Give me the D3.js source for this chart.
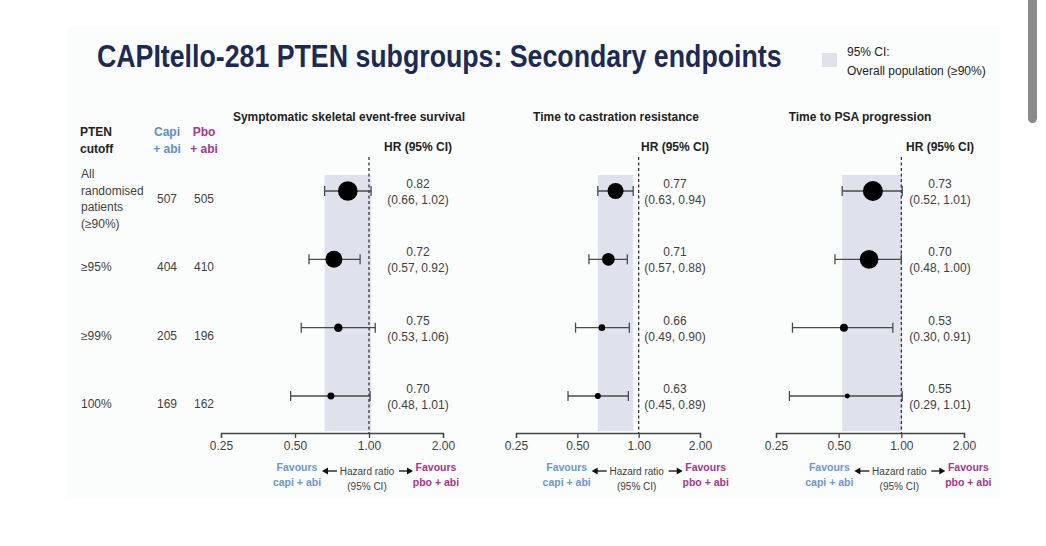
<!DOCTYPE html>
<html>
<head>
<meta charset="utf-8">
<script src="https://cdn.jsdelivr.net/npm/d3@7"></script>
<style>
  body { margin: 0; background: #ffffff; }
  svg { display: block; font-family: "Liberation Sans", Arial, sans-serif; }
</style>
</head>
<body>
<svg id="chart"></svg>
<script>
// subgroup rows
const cutoffs = ["All randomised patients (≥90%)", "≥95%", "≥99%", "100%"];
const capiN = [507, 404, 205, 169];
const pboN = [505, 410, 196, 162];

// endpoints (panels)
const endpoints = ["Symptomatic skeletal event-free survival", "Time to castration resistance", "Time to PSA progression"];
const hrSSE = [0.82, 0.72, 0.75, 0.70];
const loSSE = [0.66, 0.57, 0.53, 0.48];
const hiSSE = [1.02, 0.92, 1.06, 1.01];
const hrCRPC = [0.77, 0.71, 0.66, 0.63];
const loCRPC = [0.63, 0.57, 0.49, 0.45];
const hiCRPC = [0.94, 0.88, 0.90, 0.89];
const hrPSA = [0.73, 0.70, 0.53, 0.55];
const loPSA = [0.52, 0.48, 0.30, 0.29];
const hiPSA = [1.01, 1.00, 0.91, 1.01];
// relative marker weights
const wSSE = [96, 72, 18, 12];
const wCRPC = [64, 40, 11, 9];
const wPSA = [100, 88, 16, 6];

const tickValues = [0.25, 0.5, 1, 2];
const tickLabels = ["0.25", "0.50", "1.00", "2.00"];

const config = {
    width: 1046,
    height: 546,
    axisY: 433,
    rowTop: 191,
    rowBottom: 396,
    panels: [
        { range: [221, 443], hrX: 418, titleX: 349 },
        { range: [516, 700], hrX: 675, titleX: 616 },
        { range: [776, 964], hrX: 940, titleX: 860 }
    ]
};

const series = [
    { hr: hrSSE, lo: loSSE, hi: hiSSE, w: wSSE },
    { hr: hrCRPC, lo: loCRPC, hi: hiCRPC, w: wCRPC },
    { hr: hrPSA, lo: loPSA, hi: hiPSA, w: wPSA }
];

const blue = "#5d8fd3";
const purple = "#a5368f";
const textCol = "#3f3f3f";

const svg = d3.select("#chart")
    .attr("width", config.width)
    .attr("height", config.height);

// slide background
svg.append("rect")
    .attr("x", 66).attr("y", 27)
    .attr("width", 934).attr("height", 470)
    .attr("fill", "#fbfcfc");

// scrollbar of the screenshot
svg.append("rect")
    .attr("x", 1028).attr("y", -6)
    .attr("width", 9).attr("height", 129)
    .attr("rx", 4.5)
    .attr("fill", "#8a8a8a");

// title (the slide is a bit squeezed horizontally, so scale the text to its width)
const title = svg.append("text")
    .attr("x", 0).attr("y", 0)
    .attr("font-size", 32)
    .attr("font-weight", "bold")
    .attr("fill", "#1c2a55")
    .text("CAPItello-281 PTEN subgroups: Secondary endpoints");
const titleW = title.node().getComputedTextLength();
title.attr("transform", `translate(97,67) scale(${685 / titleW},1)`);

// legend
svg.append("rect")
    .attr("x", 822).attr("y", 53)
    .attr("width", 15).attr("height", 14)
    .attr("fill", "#dfe1ec");
svg.append("text")
    .attr("x", 847).attr("y", 56)
    .attr("font-size", 12).attr("fill", "#222")
    .text("95% CI:");
svg.append("text")
    .attr("x", 847).attr("y", 75)
    .attr("font-size", 12).attr("fill", "#222")
    .text("Overall population (≥90%)");

const yRow = d3.scalePoint()
    .domain(cutoffs)
    .range([config.rowTop, config.rowBottom]);

// table headers
const headers = [
    { x: 80, anchor: "start", lines: ["PTEN", "cutoff"], color: "#222" },
    { x: 167, anchor: "middle", lines: ["Capi", "+ abi"], color: blue },
    { x: 204, anchor: "middle", lines: ["Pbo", "+ abi"], color: purple }
];
headers.forEach(h => {
    svg.append("g").selectAll("text")
        .data(h.lines)
        .join("text")
        .attr("x", h.x)
        .attr("y", (d, i) => 132 + i * 17)
        .attr("dominant-baseline", "central")
        .attr("text-anchor", h.anchor)
        .attr("font-size", 12)
        .attr("font-weight", "bold")
        .attr("fill", h.color)
        .text(d => d);
});

// table rows
const table = svg.append("g");
cutoffs.forEach((c, i) => {
    const cy = yRow(c) + 8;
    const lines = i === 0 ? ["All", "randomised", "patients", "(≥90%)"] : [c];
    table.append("g").selectAll("text")
        .data(lines)
        .join("text")
        .attr("x", 81)
        .attr("y", (d, j) => cy + (j - (lines.length - 1) / 2) * 16.5)
        .attr("dominant-baseline", "central")
        .attr("font-size", 12)
        .attr("fill", textCol)
        .text(d => d);
    table.append("text")
        .attr("x", 167).attr("y", cy)
        .attr("dominant-baseline", "central")
        .attr("text-anchor", "middle")
        .attr("font-size", 12).attr("fill", textCol)
        .text(capiN[i]);
    table.append("text")
        .attr("x", 204).attr("y", cy)
        .attr("dominant-baseline", "central")
        .attr("text-anchor", "middle")
        .attr("font-size", 12).attr("fill", textCol)
        .text(pboN[i]);
});

const rScale = d3.scaleSqrt().domain([0, 100]).range([0, 10]);
const fmt = d3.format(".2f");

config.panels.forEach((p, k) => {
    const s = series[k];
    const x = d3.scaleLog().base(2).domain([0.25, 2]).range(p.range);
    const g = svg.append("g");

    // panel title
    g.append("text")
        .attr("x", p.titleX).attr("y", 117)
        .attr("dominant-baseline", "central")
        .attr("text-anchor", "middle")
        .attr("font-size", 12).attr("font-weight", "bold")
        .attr("fill", "#222")
        .text(endpoints[k]);

    g.append("text")
        .attr("x", p.hrX).attr("y", 147)
        .attr("dominant-baseline", "central")
        .attr("text-anchor", "middle")
        .attr("font-size", 12).attr("font-weight", "bold")
        .attr("fill", "#222")
        .text("HR (95% CI)");

    // overall population CI band
    g.append("rect")
        .attr("x", x(s.lo[0]))
        .attr("y", 175)
        .attr("width", x(s.hi[0]) - x(s.lo[0]))
        .attr("height", config.axisY - 2 - 175)
        .attr("fill", "#dfe1ec");

    // reference line at HR = 1
    g.append("line")
        .attr("x1", x(1)).attr("x2", x(1))
        .attr("y1", 157).attr("y2", config.axisY)
        .attr("stroke", "#333")
        .attr("stroke-width", 1.3)
        .attr("stroke-dasharray", "3,2.5");

    // axis
    const axis = d3.axisBottom(x)
        .tickValues(tickValues)
        .tickFormat((d, i) => tickLabels[i])
        .tickSize(5)
        .tickPadding(3);
    const ax = g.append("g")
        .attr("transform", `translate(0,${config.axisY})`)
        .call(axis);
    ax.select(".domain").attr("stroke", "#444").attr("stroke-width", 1.3);
    ax.selectAll(".tick line").attr("stroke", "#444").attr("stroke-width", 1.3);
    ax.selectAll(".tick text")
        .attr("font-size", 12)
        .attr("fill", textCol)
        .attr("font-family", "Liberation Sans, Arial, sans-serif");

    // rows
    const rows = g.selectAll("g.row")
        .data(cutoffs.map((c, i) => ({ c, hr: s.hr[i], lo: s.lo[i], hi: s.hi[i], w: s.w[i] })))
        .join("g")
        .attr("class", "row")
        .attr("transform", d => `translate(0,${yRow(d.c)})`);

    rows.append("line")
        .attr("x1", d => x(d.lo)).attr("x2", d => x(d.hi))
        .attr("stroke", "#4a4a4a").attr("stroke-width", 1.3);
    rows.append("line")
        .attr("x1", d => x(d.lo)).attr("x2", d => x(d.lo))
        .attr("y1", -5).attr("y2", 5)
        .attr("stroke", "#4a4a4a").attr("stroke-width", 1.3);
    rows.append("line")
        .attr("x1", d => x(d.hi)).attr("x2", d => x(d.hi))
        .attr("y1", -5).attr("y2", 5)
        .attr("stroke", "#4a4a4a").attr("stroke-width", 1.3);
    rows.append("circle")
        .attr("cx", d => x(d.hr))
        .attr("r", d => rScale(d.w))
        .attr("fill", "#000");

    rows.append("text")
        .attr("x", p.hrX).attr("y", -7)
        .attr("dominant-baseline", "central")
        .attr("text-anchor", "middle")
        .attr("font-size", 12).attr("fill", textCol)
        .text(d => fmt(d.hr));
    rows.append("text")
        .attr("x", p.hrX).attr("y", 9)
        .attr("dominant-baseline", "central")
        .attr("text-anchor", "middle")
        .attr("font-size", 12).attr("fill", textCol)
        .text(d => `(${fmt(d.lo)}, ${fmt(d.hi)})`);

    // bottom direction labels
    const c = x(1) - 2;
    const lab = g.append("g");
    lab.append("text").attr("x", c - 70).attr("y", 467)
        .attr("dominant-baseline", "central").attr("text-anchor", "middle")
        .attr("font-size", 10.5).attr("font-weight", "bold").attr("fill", "#6b96d2")
        .text("Favours");
    lab.append("text").attr("x", c - 70).attr("y", 482)
        .attr("dominant-baseline", "central").attr("text-anchor", "middle")
        .attr("font-size", 10.5).attr("font-weight", "bold").attr("fill", "#6b96d2")
        .text("capi + abi");
    lab.append("text").attr("x", c + 69).attr("y", 467)
        .attr("dominant-baseline", "central").attr("text-anchor", "middle")
        .attr("font-size", 10.5).attr("font-weight", "bold").attr("fill", purple)
        .text("Favours");
    lab.append("text").attr("x", c + 69).attr("y", 482)
        .attr("dominant-baseline", "central").attr("text-anchor", "middle")
        .attr("font-size", 10.5).attr("font-weight", "bold").attr("fill", purple)
        .text("pbo + abi");
    lab.append("text").attr("x", c).attr("y", 471)
        .attr("dominant-baseline", "central").attr("text-anchor", "middle")
        .attr("font-size", 10).attr("fill", textCol)
        .text("Hazard ratio");
    lab.append("text").attr("x", c).attr("y", 486)
        .attr("dominant-baseline", "central").attr("text-anchor", "middle")
        .attr("font-size", 10).attr("fill", textCol)
        .text("(95% CI)");

    // arrows
    [[c - 30, c - 45], [c + 32, c + 46]].forEach(([x1, x2]) => {
        const dir = Math.sign(x2 - x1);
        lab.append("line")
            .attr("x1", x1).attr("x2", x2 - dir * 4)
            .attr("y1", 471).attr("y2", 471)
            .attr("stroke", "#111").attr("stroke-width", 1.3);
        lab.append("path")
            .attr("d", `M${x2},471 L${x2 - dir * 6},467.5 L${x2 - dir * 6},474.5 Z`)
            .attr("fill", "#111");
    });
});
</script>
</body>
</html>
